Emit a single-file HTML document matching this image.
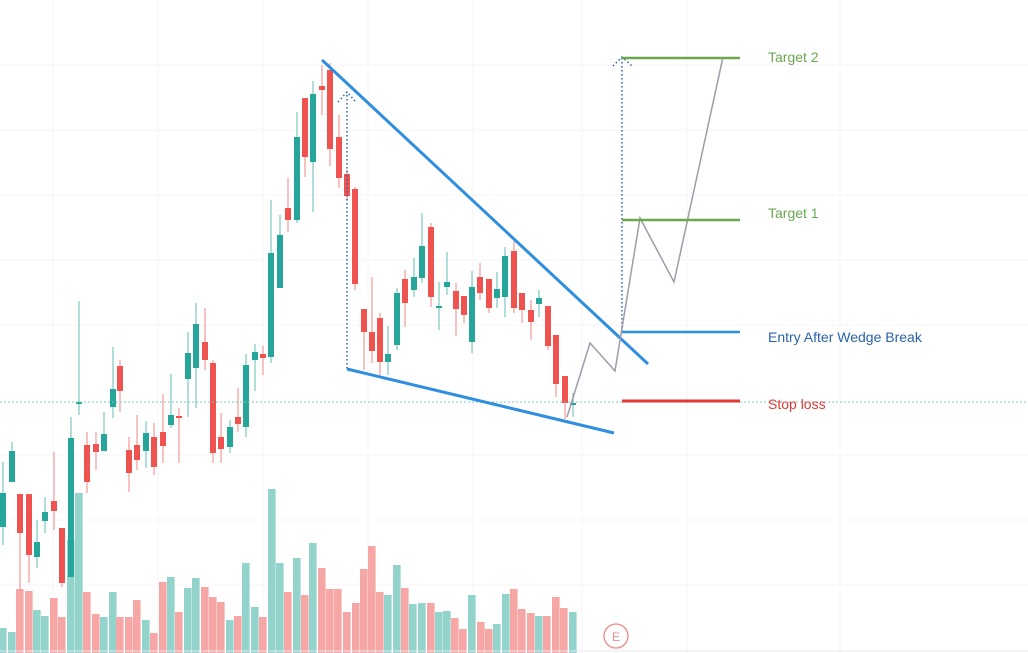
<!DOCTYPE html>
<html><head><meta charset="utf-8"><style>
html,body{margin:0;padding:0;background:#fff;width:1028px;height:653px;overflow:hidden}
svg{display:block}
text{font-family:"Liberation Sans",sans-serif}
</style></head><body>
<svg width="1028" height="653" viewBox="0 0 1028 653" xmlns="http://www.w3.org/2000/svg">
<g stroke="#f5f6f9" stroke-width="1">
<line x1="0" y1="65" x2="1028" y2="65"/><line x1="0" y1="130" x2="1028" y2="130"/><line x1="0" y1="195" x2="1028" y2="195"/><line x1="0" y1="260" x2="1028" y2="260"/><line x1="0" y1="325" x2="1028" y2="325"/><line x1="0" y1="455" x2="1028" y2="455"/><line x1="0" y1="520" x2="1028" y2="520"/><line x1="0" y1="585" x2="1028" y2="585"/>
<line x1="53" y1="0" x2="53" y2="653"/><line x1="158" y1="0" x2="158" y2="653"/><line x1="263" y1="0" x2="263" y2="653"/><line x1="368" y1="0" x2="368" y2="653"/><line x1="473" y1="0" x2="473" y2="653"/><line x1="582" y1="0" x2="582" y2="653"/><line x1="687" y1="0" x2="687" y2="653"/><line x1="840" y1="0" x2="840" y2="653"/>
</g>
<g id="vol"></g>
<g id="candles"></g>
<line x1="0" y1="402" x2="1028" y2="402" stroke="#7fc8bf" stroke-width="1" stroke-dasharray="2,2"/>
<line x1="322" y1="60" x2="648" y2="364" stroke="#2f8ee0" stroke-width="3"/>
<line x1="347" y1="369" x2="614" y2="433" stroke="#2f8ee0" stroke-width="3"/>
<line x1="347" y1="95" x2="347" y2="369" stroke="#2a62a8" stroke-width="1.5" stroke-dasharray="1.5,2.5"/>
<polyline points="338,102 347,92 356,102" fill="none" stroke="#2a62a8" stroke-width="1.5" stroke-dasharray="1.5,2.5"/>
<line x1="622" y1="58" x2="622" y2="332" stroke="#2a62a8" stroke-width="1.5" stroke-dasharray="1.5,2.5"/>
<polyline points="613,66 622,57 632,66" fill="none" stroke="#2a62a8" stroke-width="1.5" stroke-dasharray="1.5,2.5"/>
<polyline points="567,417 590,343 615,371 640,218 674,282 723,57" fill="none" stroke="#a09aaa" stroke-width="1.5"/>
<line x1="622" y1="58" x2="740" y2="58" stroke="#6aa84f" stroke-width="2.5"/>
<line x1="622" y1="220" x2="740" y2="220" stroke="#6aa84f" stroke-width="2.5"/>
<line x1="622" y1="332" x2="740" y2="332" stroke="#2f8ee0" stroke-width="2.5"/>
<line x1="622" y1="401" x2="740" y2="401" stroke="#e53935" stroke-width="3"/>
<text x="768" y="62" font-size="14" fill="#6aa84f">Target 2</text>
<text x="768" y="218" font-size="14" fill="#6aa84f">Target 1</text>
<text x="768" y="342" font-size="14" fill="#2a62a8">Entry After Wedge Break</text>
<text x="768" y="409" font-size="14" fill="#e53935">Stop loss</text>
<circle cx="616" cy="636" r="12" fill="none" stroke="#f08a8a" stroke-width="1.3"/>
<text x="616" y="641" font-size="12" fill="#f08a8a" text-anchor="middle">E</text>
<line x1="0" y1="651" x2="1028" y2="651" stroke="#e8e8ee" stroke-width="1"/>
</svg>
<script>
var C=[
['g',3,493,527,462,545],['g',12,451,482,442,482],['r',20,494,533,494,590],['r',29,494,555,494,583],['g',37,542,557,520,568],['g',45,512,521,497,533],['r',54,501,511,452,530],['r',62,528,583,528,587],['g',71,438,577,417,577],['g',79,402,404,301,415],['r',87,445,482,432,493],['r',96,444,452,432,470],['g',104,434,451,412,451],['g',113,389,407,347,418],['r',120,366,391,360,412],['r',129,450,473,437,492],['r',137,445,460,415,470],['g',146,433,451,421,468],['r',154,437,467,423,475],['r',163,432,446,394,463],['g',171,415,425,374,428],['r',179,416,418,408,463],['g',188,353,379,332,417],['g',196,324,368,303,408],['r',205,342,360,308,370],['r',213,363,453,360,463],['r',221,437,449,413,463],['g',230,427,447,420,453],['r',238,417,424,388,432],['g',246,365,427,354,437],['g',255,352,360,344,391],['r',263,354,358,346,375],['g',271,253,357,200,363],['g',280,235,288,215,288],['r',288,208,220,178,232],['g',297,137,220,112,223],['r',305,98,157,98,177],['g',313,94,162,81,212],['r',322,86,90,65,115],['r',330,70,149,63,166],['r',339,137,178,115,188],['r',347,174,196,170,200],['r',355,189,284,187,290],['r',364,309,332,309,370],['r',372,332,351,277,363],['r',380,318,362,313,375],['g',388,354,362,326,375],['g',397,293,345,288,350],['r',405,279,303,270,327],['g',414,277,290,258,297],['g',422,246,278,213,283],['r',431,227,297,223,307],['g',439,306,308,282,330],['g',447,282,287,252,295],['r',456,291,309,283,336],['r',464,296,315,296,323],['g',472,287,342,271,353],['r',480,277,293,263,300],['r',489,279,308,279,313],['g',497,289,298,272,308],['g',505,256,297,247,317],['r',514,251,308,240,313],['r',522,293,310,293,323],['r',531,310,322,300,340],['g',539,298,304,290,317],['r',548,306,346,306,350],['r',556,335,384,335,397],['r',565,376,403,376,419],['g',573,403,405,393,417]];
var V=[[3,628,'g'],[12,632,'g'],[20,589,'r'],[29,591,'r'],[37,610,'g'],[45,616,'g'],[54,598,'r'],[62,617,'r'],[71,540,'g'],[79,493,'g'],[87,592,'r'],[96,614,'r'],[104,617,'g'],[113,592,'g'],[120,617,'r'],[129,617,'r'],[137,600,'r'],[146,620,'g'],[154,633,'r'],[163,582,'r'],[171,577,'g'],[179,612,'r'],[188,588,'g'],[196,578,'g'],[205,587,'r'],[213,597,'r'],[221,602,'r'],[230,620,'g'],[238,616,'r'],[246,563,'g'],[255,607,'g'],[263,617,'r'],[272,489,'g'],[280,563,'g'],[288,592,'r'],[297,558,'g'],[305,595,'r'],[313,543,'g'],[322,568,'r'],[330,589,'r'],[338,589,'r'],[347,612,'r'],[356,603,'r'],[364,569,'r'],[372,546,'r'],[380,592,'r'],[388,595,'g'],[397,565,'g'],[405,588,'r'],[413,604,'g'],[422,603,'g'],[431,603,'r'],[439,612,'g'],[447,611,'g'],[455,618,'r'],[463,629,'r'],[472,595,'g'],[481,622,'r'],[489,629,'r'],[497,624,'g'],[506,594,'g'],[514,589,'r'],[522,609,'r'],[531,613,'r'],[539,616,'g'],[547,616,'r'],[556,597,'r'],[564,608,'r'],[573,612,'g']];
var ns='http://www.w3.org/2000/svg';
function el(p,t,a){var e=document.createElementNS(ns,t);for(var k in a)e.setAttribute(k,a[k]);p.appendChild(e);}
var vg=document.getElementById('vol'),cg=document.getElementById('candles');
V.forEach(function(v){el(vg,'rect',{x:v[0]-4,y:v[1],width:7.6,height:653-v[1],fill:v[2]=='g'?'#92d3cb':'#f6a7a5'});});
C.forEach(function(c){var col=c[0]=='g'?'#26a69a':'#ef5350';var wc=c[0]=='g'?'#7cc7bd':'#f59a98';
el(cg,'line',{x1:c[1],x2:c[1],y1:c[4],y2:c[5],stroke:wc,'stroke-width':1.2});
el(cg,'rect',{x:c[1]-3,y:c[2],width:6,height:Math.max(2,c[3]-c[2]),fill:col});});
</script>
</body></html>
